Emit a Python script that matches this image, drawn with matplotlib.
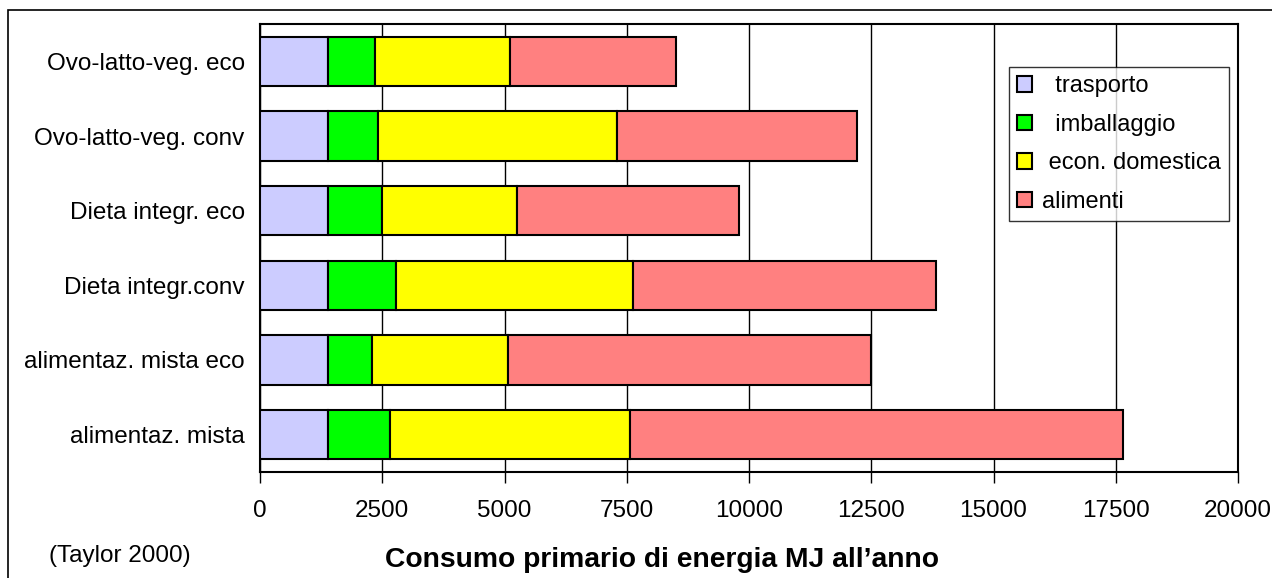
import matplotlib
matplotlib.use("Agg")
import matplotlib.pyplot as plt
from matplotlib.patches import Rectangle
import numpy as np

plt.rcParams['font.family'] = ['Liberation Sans', 'DejaVu Sans']

categories = ["Ovo-latto-veg. eco", "Ovo-latto-veg. conv", "Dieta integr. eco",
              "Dieta integr.conv", "alimentaz. mista eco", "alimentaz. mista"]
trasporto = [1400, 1400, 1400, 1400, 1400, 1400]
imballaggio = [950, 1010, 1090, 1375, 900, 1260]
econ_domestica = [2760, 4900, 2770, 4860, 2770, 4910]
alimenti = [3400, 4900, 4540, 6190, 7420, 10070]
series_names = ["  trasporto", "  imballaggio", " econ. domestica", "alimenti"]
colors = ["#ccccff", "#00ff00", "#ffff00", "#ff8080"]
xticks = [0, 2500, 5000, 7500, 10000, 12500, 15000, 17500, 20000]

FS = 17.5

fig = plt.figure(figsize=(12.72, 5.78), dpi=100)
ax = fig.add_axes([260/1272, 1-472/578, (1238-260)/1272, (472-24)/578])

y = np.arange(len(categories))
left = np.zeros(len(categories))
handles = []
for vals, name, c in zip([trasporto, imballaggio, econ_domestica, alimenti], series_names, colors):
    h = ax.barh(y, vals, left=left, height=0.66, color=c, edgecolor="black",
                linewidth=1.5, label=name, zorder=3)
    handles.append(h)
    left = left + np.array(vals)

ax.set_xlim(0, 20000)
ax.set_ylim(len(categories) - 0.5, -0.5)
ax.set_xticks(xticks)
ax.set_xticklabels([str(t) for t in xticks], fontsize=FS)
ax.set_yticks(y)
ax.set_yticklabels(categories, fontsize=FS)
ax.tick_params(axis='y', length=0, pad=11)
ax.tick_params(axis='x', direction='out', length=8, width=1, pad=12)
ax.xaxis.grid(True, color="black", linewidth=1, zorder=0)
ax.set_axisbelow(True)
for s in ax.spines.values():
    s.set_linewidth(1.5)
    s.set_color("black")

leg = ax.legend(handles=handles, loc="upper left",
                bbox_to_anchor=((1009-260)/978, 1-(67-24)/448),
                fontsize=17, frameon=True, fancybox=False, edgecolor="black",
                handlelength=0.64, handleheight=0.64, handletextpad=0.4,
                labelspacing=0.7, borderpad=0.35, borderaxespad=0)
leg.get_frame().set_linewidth(1)

fig.text(120/1272, 1-556/578, "(Taylor 2000)", fontsize=FS, ha="center", va="center")
fig.text(662/1272, 1-560/578, "Consumo primario di energia MJ all\u2019anno",
         fontsize=20.3, fontweight="bold", ha="center", va="center")

frame = Rectangle((8/1272, -0.1), 1.2, 1.1 - 10/578, transform=fig.transFigure,
                  fill=False, edgecolor="black", linewidth=1.2, clip_on=False)
fig.patches.append(frame)

fig.savefig("out.png", dpi=100)
